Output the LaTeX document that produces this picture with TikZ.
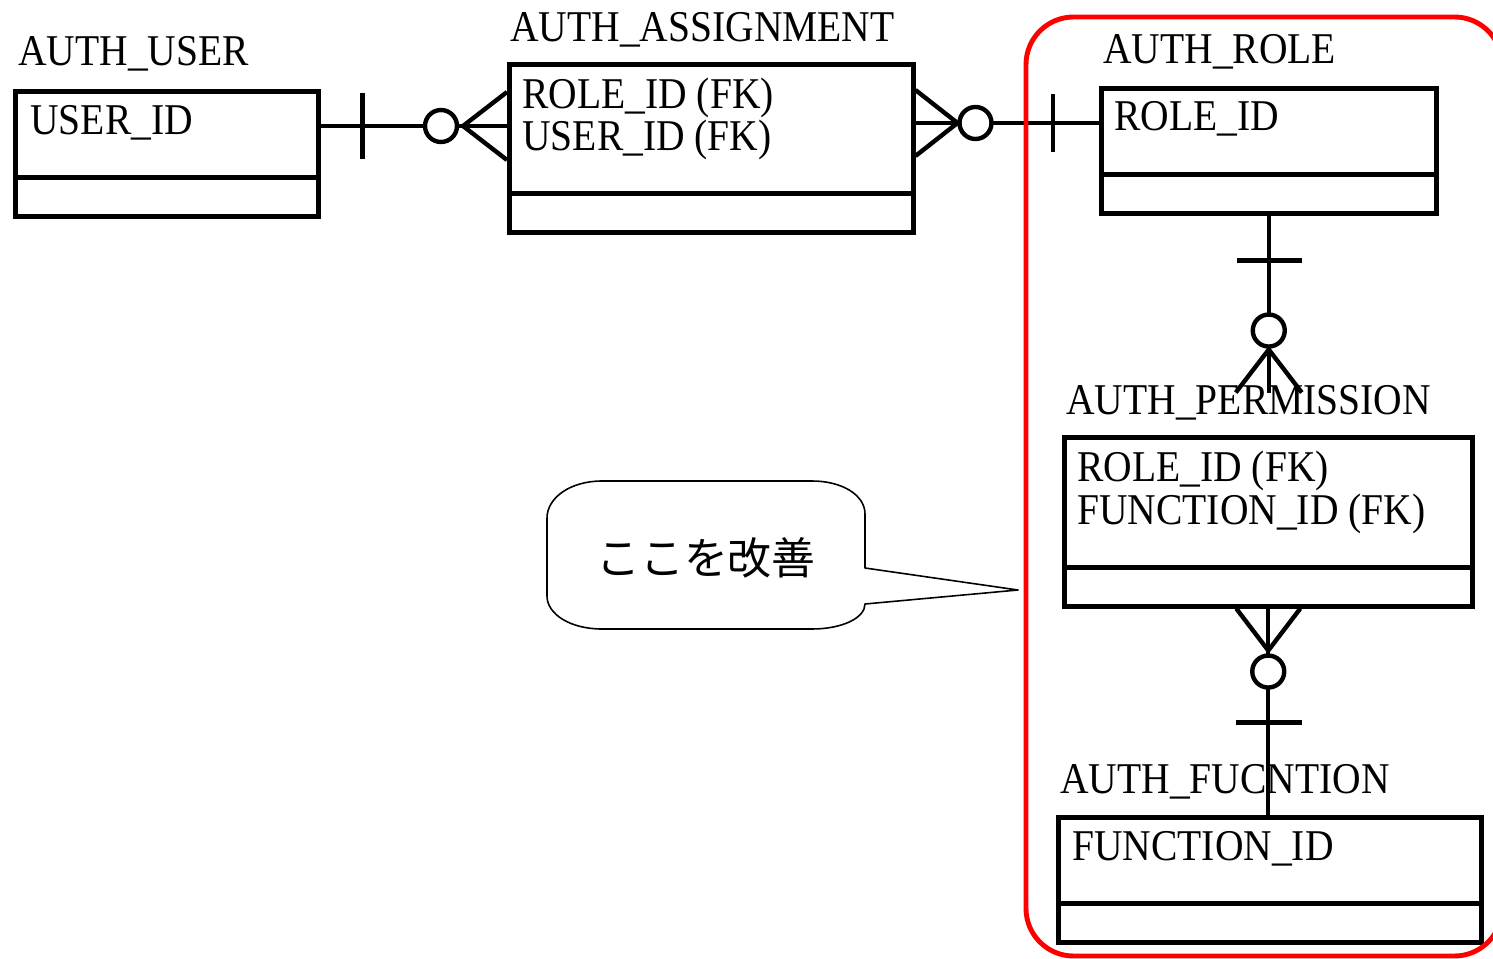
\documentclass[tikz,border=0pt]{standalone}
\usepackage{fontspec}
\setmainfont{Liberation Serif}
\newfontfamily\erfont[FakeStretch=0.9]{Liberation Serif}
\newfontfamily\cjk{Noto Sans CJK JP}
\usetikzlibrary{calc}

\begin{document}
\begin{tikzpicture}[
  x=0.02cm, y=-0.02cm,
  entity/.style={
    draw, line width=2.6pt, rectangle,
    anchor=north west, inner sep=0pt
  },
  title/.style={
    anchor=base west, inner sep=0pt,
    font=\erfont\fontsize{25}{25}\selectfont
  },
  attr/.style={
    anchor=base west, inner sep=0pt, align=left,
    font=\erfont\fontsize{25}{24.4}\selectfont
  },
  rel/.style={line width=2.5pt},
  ring/.style={line width=2.5pt, fill=white},
  note/.style={draw, line width=0.9pt, line join=round},
  focus/.style={draw=red, line width=2.8pt, rounded corners=0.95cm},
]

\useasboundingbox (0,0) rectangle (1493,959);

\def\dv{0.82cm}

% entities
\node[entity, minimum width=6.06cm, minimum height=2.5cm] (user) at (13,89) {};
\node[entity, minimum width=8.08cm, minimum height=3.36cm] (assign) at (507,62) {};
\node[entity, minimum width=6.7cm, minimum height=2.5cm] (role) at (1099,86) {};
\node[entity, minimum width=8.16cm, minimum height=3.38cm] (perm) at (1062,435) {};
\node[entity, minimum width=8.46cm, minimum height=2.5cm] (func) at (1056,815) {};

\foreach \e in {user, assign, role, perm, func}
  \draw[rel] ([yshift=\dv]\e.south west) -- ([yshift=\dv]\e.south east);

% user -- assign
\coordinate (ua) at (user.east |- 0,126);
\coordinate (au) at (assign.west |- 0,126);
\draw[rel] (ua) -- (au);
\draw[rel] ($(ua)+(42,-33)$) -- ++(0,66);
\draw[rel] ($(au)+(0,-34)$) -- ($(au)+(-44,0)$) -- ($(au)+(0,34)$);
\draw[ring] ($(au)+(-66,0)$) circle[radius=0.32cm];

% assign -- role
\coordinate (ar) at (assign.east |- 0,123);
\coordinate (ra) at (role.west |- 0,123);
\draw[rel] (ar) -- (ra);
\draw[rel] ($(ar)+(0,-33)$) -- ($(ar)+(42,0)$) -- ($(ar)+(0,33)$);
\draw[ring] ($(ar)+(60,0)$) circle[radius=0.32cm];
\draw[rel] ($(ra)+(-46,-29)$) -- ++(0,58);

% role -- perm
\draw[rel] (role.south) -- ++(0,177);
\draw[rel] ($(role.south)+(-32,45)$) -- ++(65,0);
\draw[rel] ($(role.south)+(-33,177)$) -- ($(role.south)+(0,134)$) -- ($(role.south)+(33,177)$);
\draw[ring] ($(role.south)+(0,115)$) circle[radius=0.32cm];

% perm -- func
\draw[rel] (perm.south) -- (perm.south |- func.north);
\draw[rel] ($(perm.south)+(-32,0)$) -- ($(perm.south)+(0,42)$) -- ($(perm.south)+(32,0)$);
\draw[ring] ($(perm.south)+(0,63)$) circle[radius=0.32cm];
\draw[rel] ($(perm.south)+(-32,114)$) -- ++(66,0);

% names and keys (multi-line keys sit on their last line)
\node[title] (user-t) at (18,66) {AUTH\_USER};
\node[attr] (user-k) at (30,135) {USER\_ID};
\node[title] (assign-t) at (510,42) {AUTH\_ASSIGNMENT};
\node[attr] (assign-k) at (522,151) {ROLE\_ID (FK)\\USER\_ID (FK)};
\node[title] (role-t) at (1103,64) {AUTH\_ROLE};
\node[attr] (role-k) at (1114,131) {ROLE\_ID};
\node[title] (perm-t) at (1066,414) {AUTH\_PERMISSION};
\node[attr] (perm-k) at (1077,524) {ROLE\_ID (FK)\\FUNCTION\_ID (FK)};
\node[title] (func-t) at (1060,793) {AUTH\_FUCNTION};
\node[attr] (func-k) at (1072,860) {FUNCTION\_ID};

% callout
\draw[note] (547,518) .. controls (547,498) and (570,481) .. (602,481) -- (812,481)
  .. controls (842,481) and (865,495) .. (865,514) -- (865,568) -- (1018,590) -- (865,604)
  .. controls (865,618) and (842,629) .. (812,629) -- (602,629)
  .. controls (570,629) and (547,614) .. (547,596) -- cycle;
\node[font=\cjk\fontsize{25}{25}\selectfont] (note-t) at (706,558) {ここを改善};

\draw[focus] (1026,17) rectangle (1502,956);

\end{tikzpicture}
\end{document}
